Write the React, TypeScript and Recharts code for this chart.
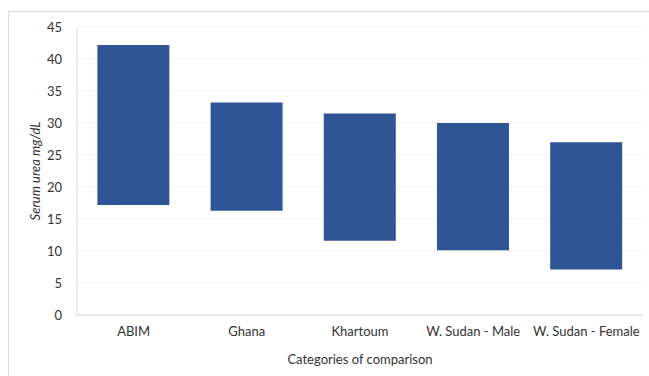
import React from 'react';
import { BarChart, Bar, XAxis, YAxis, CartesianGrid, Label } from 'recharts';

const categories = ['ABIM', 'Ghana', 'Khartoum', 'W. Sudan - Male', 'W. Sudan - Female'];
const lowValues = [17.2, 16.3, 11.6, 10.1, 7.1];
const highValues = [42.2, 33.2, 31.5, 30.0, 27.0];
const yTicks = [0, 5, 10, 15, 20, 25, 30, 35, 40, 45];

const data = categories.map((name, i) => ({ name, range: [lowValues[i], highValues[i]] }));

const FONT = 'Lato, "Open Sans", sans-serif';

const YLabel = (props: any) => {
  const vb = props.viewBox || {};
  const cy = vb.y + vb.height / 2;
  const cx = 35;
  return (
    <text
      x={cx}
      y={cy}
      transform={`rotate(-90, ${cx}, ${cy})`}
      textAnchor="middle"
      dominantBaseline="central"
      fontStyle="italic"
      fontSize={13}
      fontFamily={FONT}
      fill="#333333"
    >
      Serum urea mg/dL
    </text>
  );
};

export default function App() {
  return (
    <div style={{ position: 'absolute', left: 0, top: 0, width: 649, height: 376, background: '#fff' }}>
      <div
        style={{
          position: 'absolute',
          left: 8,
          top: 11,
          width: 641,
          height: 365,
          borderTop: '1px solid #d9d9d9',
          borderLeft: '1px solid #d9d9d9',
          boxSizing: 'border-box',
        }}
      />
      <div style={{ position: 'absolute', left: 0, top: 0 }}>
        <BarChart
          width={649}
          height={376}
          data={data}
          margin={{ top: 27, right: 6, bottom: 0, left: 20 }}
          barCategoryGap="18%"
        >
          <CartesianGrid horizontal vertical={false} stroke="#f0f0f0" />
          <XAxis
            dataKey="name"
            height={61}
            axisLine={{ stroke: '#d9d9d9' }}
            tickLine={false}
            tickMargin={6}
            interval={0}
            tick={{ fontSize: 13, fill: '#333333', fontFamily: FONT }}
          >
            <Label
              value="Categories of comparison"
              position="insideBottom"
              offset={12}
              style={{ fontSize: 13, fill: '#333333', fontFamily: FONT }}
            />
          </XAxis>
          <YAxis
            width={57}
            domain={[0, 45]}
            ticks={yTicks}
            interval={0}
            axisLine={{ stroke: '#d9d9d9' }}
            tickLine={false}
            tickMargin={9}
            tick={{ fontSize: 13, fill: '#333333', fontFamily: FONT }}
          >
            <Label content={<YLabel />} />
          </YAxis>
          <Bar dataKey="range" fill="#2f5597" isAnimationActive={false} />
        </BarChart>
      </div>
    </div>
  );
}
